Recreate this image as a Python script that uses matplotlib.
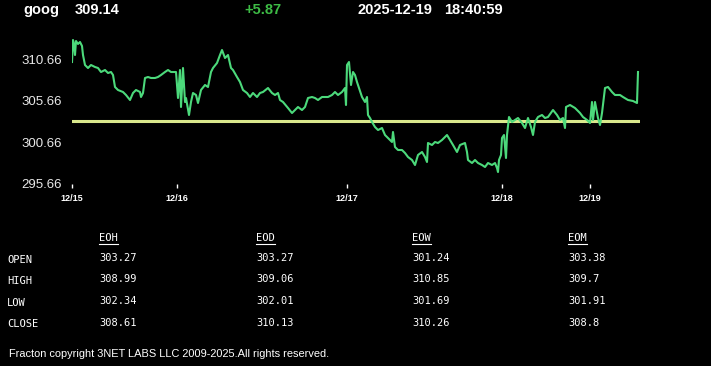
import matplotlib
matplotlib.use("Agg")
import matplotlib.pyplot as plt

# ---------------- data ----------------
symbol = "goog"
last_price = "309.14"
change = "+5.87"
date_str = "2025-12-19"
time_str = "18:40:59"
ref_price = 303.27

# time index (sample position) and price
t = [0, 1, 2, 3, 4, 6, 8, 10, 11, 13, 16, 19, 23, 26, 29, 33, 36, 39, 41, 43, 46, 51, 54, 58,
     61, 64, 68, 69, 71, 73, 76, 79, 83, 86, 89, 93, 96, 99, 103, 104, 106, 108, 109, 111, 113,
     114, 117, 119, 121, 124, 126, 129, 133, 136, 139, 141, 145, 148, 150, 153, 156, 159, 161,
     165, 168, 171, 175, 178, 181, 185, 188, 191, 196, 200, 203, 206, 208, 211, 216, 220, 223,
     226, 230, 233, 236, 240, 243, 246, 250, 253, 256, 260, 263, 266, 270, 273, 274, 275, 277,
     279, 281, 283, 285, 286, 290, 293, 295, 296, 298, 300, 303, 306, 310, 313, 316, 320, 321,
     323, 326, 330, 333, 336, 340, 343, 346, 350, 353, 355, 356, 360, 363, 366, 370, 375, 378,
     381, 385, 388, 393, 395, 396, 400, 403, 406, 410, 413, 416, 420, 423, 425, 426, 427, 429,
     430, 432, 434, 435, 437, 440, 443, 446, 450, 453, 456, 459, 461, 463, 466, 470, 473, 476,
     481, 485, 488, 491, 493, 494, 498, 503, 508, 511, 515, 518, 520, 521, 523, 526, 528, 530,
     533, 536, 540, 543, 548, 551, 556, 561, 565, 566]
price = [310.30, 312.94, 312.46, 311.14, 312.82, 312.46, 312.70, 312.22, 311.14, 309.94, 309.58,
         309.94, 309.70, 309.58, 309.10, 309.34, 308.98, 309.10, 308.74, 307.30, 306.94, 306.70,
         306.34, 305.74, 306.58, 306.94, 306.70, 306.10, 306.58, 308.38, 308.50, 308.38, 308.38,
         308.50, 308.74, 309.10, 309.34, 309.10, 309.10, 309.10, 305.98, 309.34, 304.90, 309.58,
         305.50, 305.98, 303.94, 305.50, 306.58, 306.34, 305.38, 306.94, 307.54, 307.30, 309.10,
         309.58, 310.18, 311.14, 311.74, 310.78, 311.14, 309.58, 309.34, 308.50, 307.90, 306.94,
         306.58, 306.10, 306.58, 306.10, 306.58, 306.70, 307.18, 306.58, 306.34, 306.58, 305.74,
         305.50, 304.78, 304.18, 304.54, 304.90, 304.54, 304.90, 305.98, 306.10, 305.98, 305.74,
         306.10, 306.10, 306.10, 306.34, 306.70, 306.34, 306.70, 307.18, 305.14, 309.94, 310.30,
         307.54, 309.10, 308.74, 307.90, 307.54, 306.10, 305.50, 306.10, 303.94, 303.58, 303.10,
         302.50, 302.14, 302.38, 301.54, 301.18, 300.70, 301.90, 300.10, 299.74, 299.74, 299.38,
         298.90, 298.54, 297.94, 299.14, 299.50, 298.90, 298.30, 300.58, 300.34, 300.70, 300.58,
         300.94, 301.54, 300.94, 300.34, 299.50, 300.34, 300.58, 299.50, 298.54, 298.18, 298.54,
         298.18, 297.94, 297.70, 298.18, 297.94, 298.18, 297.58, 297.10, 298.54, 299.14, 301.18,
         301.54, 298.78, 301.54, 303.70, 303.10, 303.34, 303.58, 302.98, 302.38, 303.58, 302.50,
         301.54, 303.10, 303.70, 303.94, 303.58, 303.70, 304.54, 303.94, 303.34, 303.58, 302.38,
         304.90, 305.14, 304.78, 304.18, 303.70, 303.34, 302.98, 305.50, 303.34, 305.50, 303.58,
         302.74, 304.18, 307.18, 307.30, 306.70, 306.34, 306.34, 306.10, 305.74, 305.62, 305.38,
         309.10]

x_tick_pos = [0, 105, 275, 430, 518]
x_tick_labels = ["12/15", "12/16", "12/17", "12/18", "12/19"]
y_ticks = [295.66, 300.66, 305.66, 310.66]

col_headers = ["EOH", "EOD", "EOW", "EOM"]
row_labels = ["OPEN", "HIGH", "LOW", "CLOSE"]
table_values = [
    ["303.27", "303.27", "301.24", "303.38"],
    ["308.99", "309.06", "310.85", "309.7"],
    ["302.34", "302.01", "301.69", "301.91"],
    ["308.61", "310.13", "310.26", "308.8"],
]
footer = "Fracton copyright 3NET LABS LLC 2009-2025.All rights reserved."

# ---------------- figure ----------------
W, H = 711, 366
fig = plt.figure(figsize=(W / 100, H / 100), dpi=100, facecolor="black")

def fx(px):
    return px / W

def fy(py):
    return 1 - py / H

ax_left, ax_right, ax_top, ax_bot = 72, 640, 36, 184
ax = fig.add_axes([fx(ax_left), fy(ax_bot), (ax_right - ax_left) / W, (ax_bot - ax_top) / H])
ax.set_facecolor("black")
ax.set_xlim(0, 568)
ax.set_ylim(295.66, 295.66 + (ax_bot - ax_top) * 0.12)

ax.axhline(ref_price, color="#d9e88c", lw=2.2, zorder=2)
ax.plot(t, price, color="#4cd97b", lw=1.5, zorder=3, solid_joinstyle="round")

for s in ax.spines.values():
    s.set_visible(False)

ax.set_yticks(y_ticks)
ax.set_yticklabels([f"{v:.2f}" for v in y_ticks])
ax.tick_params(axis="y", length=0, pad=7, labelsize=9.5, labelcolor="#e8e8e8",
               labelfontfamily="Liberation Sans")
ax.set_xticks(x_tick_pos)
ax.set_xticklabels(x_tick_labels)
ax.tick_params(axis="x", length=3, width=1, color="white", pad=4, labelsize=6.5,
               labelcolor="white", direction="out")
for lab in ax.get_xticklabels():
    lab.set_fontfamily("Liberation Sans")
    lab.set_fontweight("bold")

# ---------------- header ----------------
hdr = dict(fontfamily="Liberation Sans", fontweight="bold", fontsize=10.5,
           va="center", ha="left")
fig.text(fx(23), fy(10), symbol, color="white", **hdr)
fig.text(fx(75), fy(10), last_price, color="white", **hdr)
fig.text(fx(244), fy(10), change, color="#3dbb45", **hdr)
fig.text(fx(357), fy(10), date_str, color="white", **hdr)
fig.text(fx(444), fy(10), time_str, color="white", **hdr)

# ---------------- table ----------------
mono = dict(fontfamily="DejaVu Sans Mono", fontsize=7.5, color="white", va="center", ha="left")
col_x = [99, 256, 412, 568]
row_y = [258, 279, 301, 323]
label_y = [260, 281, 303, 324]
for cx, h in zip(col_x, col_headers):
    fig.text(fx(cx), fy(238), h, **mono)
    fig.add_artist(plt.Line2D([fx(cx), fx(cx + len(h) * 6.3)], [fy(243.5), fy(243.5)],
                              color="white", lw=0.8, transform=fig.transFigure))
for ry, lab in zip(label_y, row_labels):
    fig.text(fx(7), fy(ry), lab, **mono)
for ry, row in zip(row_y, table_values):
    for cx, v in zip(col_x, row):
        fig.text(fx(cx), fy(ry), v, **mono)

fig.text(fx(9), fy(354), footer, fontfamily="Liberation Sans", fontsize=7.9,
         color="white", va="center", ha="left")

fig.savefig("out.png", dpi=100, facecolor="black")
